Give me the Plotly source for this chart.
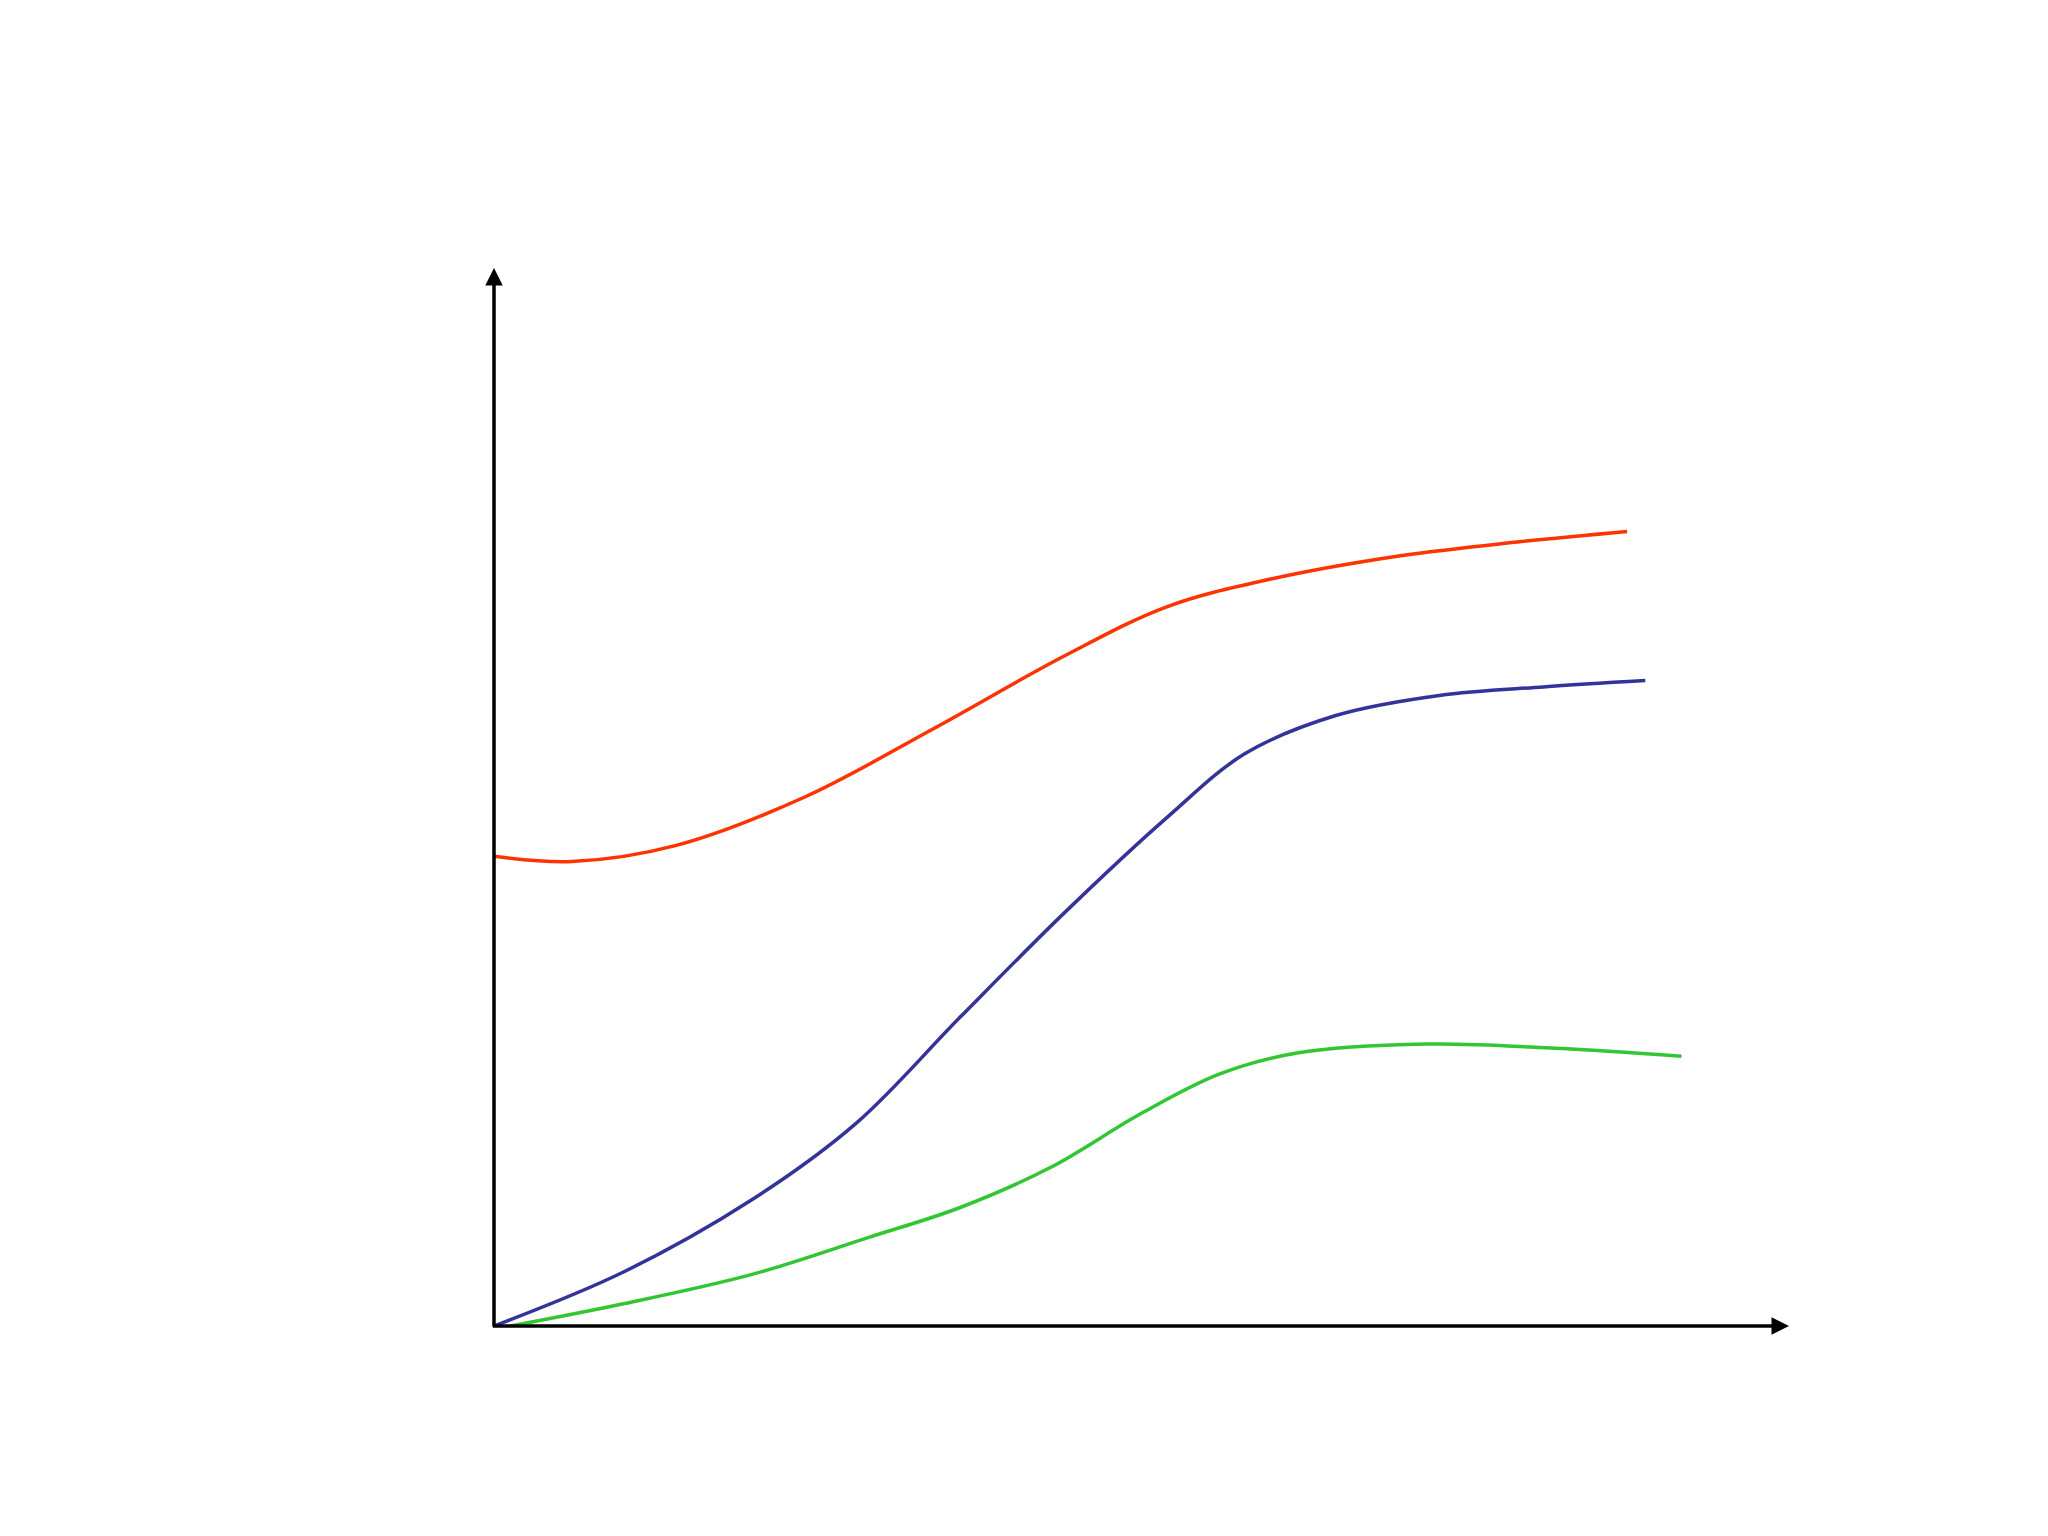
import plotly.graph_objects as go

# Series (x, y), in arbitrary axis units (origin at 0, axis tips at 10)
red_x = [0.0, 0.6, 1.4, 2.4, 3.4, 4.4, 5.2, 6.0, 7.0, 7.9, 8.75]
red_y = [4.44, 4.39, 4.54, 5.00, 5.65, 6.33, 6.80, 7.06, 7.28, 7.41, 7.51]

blue_x = [0.0, 1.0, 2.0, 2.8, 3.6, 4.4, 5.2, 5.8, 6.5, 7.3, 8.1, 8.89]
blue_y = [0.0, 0.51, 1.20, 1.92, 2.92, 3.90, 4.81, 5.41, 5.77, 5.96, 6.04, 6.10]

green_x = [0.0, 1.0, 2.0, 2.9, 3.6, 4.3, 5.0, 5.6, 6.2, 7.2, 8.2, 9.17]
green_y = [-0.03, 0.21, 0.49, 0.84, 1.12, 1.50, 2.01, 2.38, 2.58, 2.665, 2.625, 2.55]

x_max = 10
y_max = 10

fig = go.Figure()
for xs, ys, col in [(green_x, green_y, "#33c633"),
                    (blue_x, blue_y, "#333399"),
                    (red_x, red_y, "#ff3300")]:
    fig.add_trace(go.Scatter(x=xs, y=ys, mode="lines",
                             line=dict(color=col, width=3.5, shape="spline", smoothing=1.0),
                             cliponaxis=False, showlegend=False, hoverinfo="skip"))

arrow_common = dict(xref="x", yref="y", axref="x", ayref="y", text="",
                    showarrow=True, arrowhead=2, arrowwidth=3.5, arrowsize=1.0,
                    arrowcolor="black", standoff=0, startstandoff=0)
fig.add_annotation(x=0, y=y_max, ax=0, ay=-0.02, **arrow_common)
fig.add_annotation(x=x_max, y=0, ax=-0.02, ay=0, **arrow_common)

fig.update_xaxes(range=[0, x_max], visible=False, fixedrange=True)
fig.update_yaxes(range=[0, y_max], visible=False, fixedrange=True)
fig.update_layout(width=2048, height=1536,
                  margin=dict(l=486, r=267, t=260, b=218),
                  plot_bgcolor="white", paper_bgcolor="white")

fig.write_html("out.html")
